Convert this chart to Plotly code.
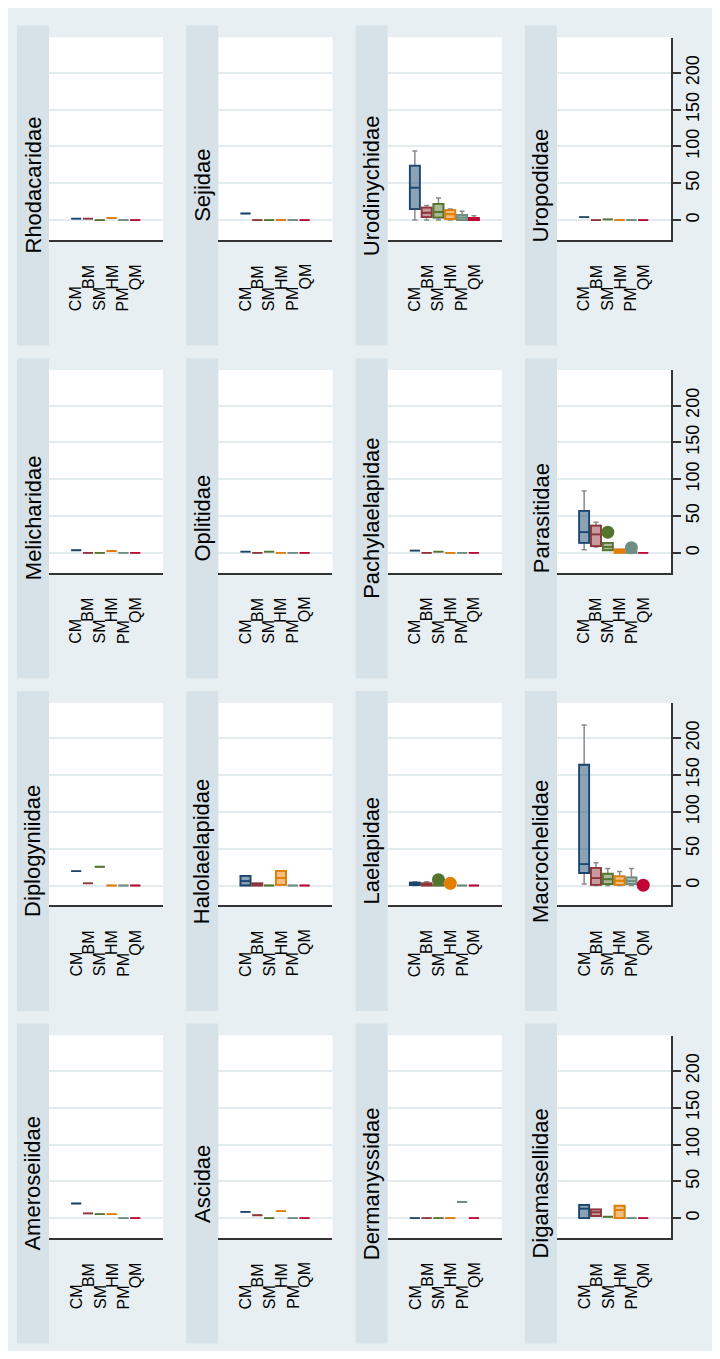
import plotly.graph_objects as go

FAMILIES = ["Ameroseiidae", "Ascidae", "Dermanyssidae", "Digamasellidae",
            "Diplogyniidae", "Halolaelapidae", "Laelapidae", "Macrochelidae",
            "Melicharidae", "Oplitidae", "Pachylaelapidae", "Parasitidae",
            "Rhodacaridae", "Sejidae", "Urodinychidae", "Uropodidae"]
GROUPS = ["CM", "BM", "SM", "HM", "PM", "QM"]
VALUE_TICKS = [0, 50, 100, 150, 200]

# per family: values for CM, BM, SM, HM, PM, QM
LOW = [
    [20, 6.5, 5.5, 5.5, 0, 0],
    [8.5, 4, 0, 9.5, 0, 0],
    [0, 0, 0, 0, 22, 0],
    [0, 3, 2, 0, 0, 0],
    [19.5, 3, 25.5, 0, 0, 0],
    [0, 0, 0, 1, 0, 0],
    [0, 0, 0, 0, 0, 0],
    [2, 0, 0, 0, 0, 0],
    [3.5, 0, 0, 2.5, 0, 0],
    [1.5, 0, 1.5, 0, 0, 0],
    [3, 0, 1.5, 0, 0, 0],
    [4, 8, 3.5, 0, 0, 0],
    [2, 2, 0, 3, 0, 0],
    [9, 0, 0, 0, 0, 0],
    [0, 0, 0, 0, 0, 0],
    [4, 0, 1, 0, 0, 0],
]
Q1 = [
    [20, 6.5, 5.5, 5.5, 0, 0],
    [8.5, 4, 0, 9.5, 0, 0],
    [0, 0, 0, 0, 22, 0],
    [0, 3, 2, 0, 0, 0],
    [19.5, 3, 25.5, 0, 0, 0],
    [0, 0, 0, 1, 0, 0],
    [0.5, 0, 0, 0, 0, 0],
    [17, 1, 2, 1, 2, 0],
    [3.5, 0, 0, 2.5, 0, 0],
    [1.5, 0, 1.5, 0, 0, 0],
    [3, 0, 1.5, 0, 0, 0],
    [13.5, 9, 3.5, 0, 0, 0],
    [2, 2, 0, 3, 0, 0],
    [9, 0, 0, 0, 0, 0],
    [15, 4, 3.5, 1.5, 0, 0],
    [4, 0, 1, 0, 0, 0],
]
MEDIAN = [
    [20, 6.5, 5.5, 5.5, 0, 0],
    [8.5, 4, 0, 9.5, 0, 0],
    [0, 0, 0, 0, 22, 0],
    [13, 8, 2, 11, 0, 0],
    [19.5, 3, 25.5, 0, 0, 0],
    [6, 1.5, 0, 10, 0, 0],
    [2, 1.5, 0.5, 0, 0, 0],
    [29, 10, 8.5, 6.5, 6, 0],
    [3.5, 0, 0, 2.5, 0, 0],
    [1.5, 0, 1.5, 0, 0, 0],
    [3, 0, 1.5, 0, 0, 0],
    [28, 25, 8, 2, 0.5, 0],
    [2, 2, 0, 3, 0, 0],
    [9, 0, 0, 0, 0, 0],
    [44, 10, 11, 8, 3.5, 1.5],
    [4, 0, 1, 0, 0, 0],
]
Q3 = [
    [20, 6.5, 5.5, 5.5, 0, 0],
    [8.5, 4, 0, 9.5, 0, 0],
    [0, 0, 0, 0, 22, 0],
    [18, 12, 2, 17, 0, 0],
    [19.5, 3, 25.5, 0, 0, 0],
    [13, 3, 0, 20, 0, 0],
    [4, 3, 1, 0, 0, 0],
    [164, 24, 16, 12.5, 11, 0],
    [3.5, 0, 0, 2.5, 0, 0],
    [1.5, 0, 1.5, 0, 0, 0],
    [3, 0, 1.5, 0, 0, 0],
    [57, 37, 13.5, 4.5, 1, 0],
    [2, 2, 0, 3, 0, 0],
    [9, 0, 0, 0, 0, 0],
    [74, 17, 22, 13.5, 7, 3],
    [4, 0, 1, 0, 0, 0],
]
HIGH = [
    [20, 6.5, 5.5, 5.5, 0, 0],
    [8.5, 4, 0, 9.5, 0, 0],
    [0, 0, 0, 0, 22, 0],
    [18, 12, 2, 17, 0, 0],
    [19.5, 3, 25.5, 0, 0, 0],
    [13, 3, 0, 20, 0, 0],
    [5, 5, 1, 0, 0, 0],
    [218, 31, 23, 19, 23, 0],
    [3.5, 0, 0, 2.5, 0, 0],
    [1.5, 0, 1.5, 0, 0, 0],
    [3, 0, 1.5, 0, 0, 0],
    [84, 41.5, 13.5, 4.5, 1, 0],
    [2, 2, 0, 3, 0, 0],
    [9, 0, 0, 0, 0, 0],
    [94, 20, 30, 15, 12, 6],
    [4, 0, 1, 0, 0, 0],
]
OUTLIER_FAMILY = ["Laelapidae", "Laelapidae", "Macrochelidae", "Parasitidae", "Parasitidae"]
OUTLIER_GROUP = ["SM", "HM", "QM", "SM", "PM"]
OUTLIER_VALUE = [8, 3, 0.5, 28, 7]

LINE_COLORS = ["#1a476f", "#90353b", "#55752f", "#e37e00", "#6e8e84", "#c10534"]
FILL_COLORS = ["rgba(26,71,111,0.5)", "rgba(144,53,59,0.5)", "rgba(85,117,47,0.5)",
               "rgba(227,126,0,0.5)", "rgba(110,142,132,0.55)", "rgba(193,5,52,0.5)"]

# page body keeps an 8px margin, so the figure is drawn 16px smaller and offset
OFF = 8
W, H = 720 - 2 * OFF, 1359 - 2 * OFF
FONT = "Liberation Sans, Arial, Helvetica, sans-serif"
INNER = "#e8eff2"
STRIP = "#d6e2e8"
GRID = "#e3ebee"
AXIS = "#333333"


def px(v):
    return (v - OFF) / W


def py(v):
    return 1 - (v - OFF) / H


fig = go.Figure()
shapes = []
annotations = []
layout = {}

for i, fam in enumerate(FAMILIES):
    n = i + 1
    c = i % 4
    r = 3 - i // 4
    x0 = 49 + 169.33 * c
    x1 = x0 + 114
    top = 37.5 + 332.7 * r
    bottom = top + 202.5
    stop = 25.5 + 332.7 * r
    xa = "x" if n == 1 else f"x{n}"
    ya = "y" if n == 1 else f"y{n}"
    right = (c == 3)

    layout["xaxis" if n == 1 else f"xaxis{n}"] = dict(
        domain=[px(x0), px(x1)], anchor=ya, range=[-2.3, 7.35],
        showgrid=False, zeroline=False, showticklabels=False, ticks="",
        showline=True, linecolor=AXIS, linewidth=1.6, fixedrange=True)
    layout["yaxis" if n == 1 else f"yaxis{n}"] = dict(
        domain=[py(bottom), py(top)], anchor=xa, range=[-27, 248],
        tickvals=VALUE_TICKS, ticktext=[str(t) for t in VALUE_TICKS],
        showgrid=True, gridcolor=GRID, gridwidth=1.5, zeroline=False,
        side="right" if right else "left",
        showticklabels=right, ticks="outside" if right else "",
        ticklen=8, tickwidth=1.5, tickcolor=AXIS, tickangle=-90,
        ticklabelstandoff=-3,
        tickfont=dict(size=18, color="black", family=FONT),
        showline=right, linecolor=AXIS, linewidth=1.6, fixedrange=True)

    # white plot region + title strip
    shapes.append(dict(type="rect", xref="paper", yref="paper", x0=px(x0), x1=px(x1),
                       y0=py(bottom), y1=py(top), fillcolor="white", line_width=0,
                       layer="below"))
    shapes.append(dict(type="rect", xref="paper", yref="paper", x0=px(x0 - 32), x1=px(x0),
                       y0=py(stop + 320), y1=py(stop), fillcolor=STRIP, line_width=0,
                       layer="below"))
    annotations.append(dict(text=fam, xref="paper", yref="paper", x=px(x0 - 16),
                            y=py(stop + 160), textangle=-90, showarrow=False,
                            xanchor="center", yanchor="middle",
                            font=dict(size=22, color="black", family=FONT)))

    # whiskers (gray)
    fig.add_trace(go.Box(
        x=list(range(len(GROUPS))), q1=Q1[i], median=MEDIAN[i], q3=Q3[i],
        lowerfence=LOW[i], upperfence=HIGH[i], width=0.85, whiskerwidth=0.5,
        line=dict(color="#8a8a8a", width=1.5), fillcolor="rgba(0,0,0,0)",
        boxpoints=False, xaxis=xa, yaxis=ya, showlegend=False, hoverinfo="skip"))
    # colored boxes
    for k, g in enumerate(GROUPS):
        fig.add_trace(go.Box(
            x=[k], q1=[Q1[i][k]], median=[MEDIAN[i][k]], q3=[Q3[i][k]],
            lowerfence=[Q1[i][k]], upperfence=[Q3[i][k]], width=0.85, whiskerwidth=0,
            line=dict(color=LINE_COLORS[k], width=1.8), fillcolor=FILL_COLORS[k],
            boxpoints=False, xaxis=xa, yaxis=ya, showlegend=False, name=g,
            hoverinfo="skip"))
        annotations.append(dict(text=g, xref=xa, yref="paper", x=k,
                                y=py(bottom + (59 if k % 2 == 0 else 37)),
                                textangle=-90, showarrow=False,
                                xanchor="center", yanchor="middle",
                                font=dict(size=16, color="black", family=FONT)))
    # outside values
    ox, oy, oc = [], [], []
    for f, g, v in zip(OUTLIER_FAMILY, OUTLIER_GROUP, OUTLIER_VALUE):
        if f == fam:
            ox.append(GROUPS.index(g))
            oy.append(v)
            oc.append(LINE_COLORS[GROUPS.index(g)])
    if ox:
        fig.add_trace(go.Scatter(x=ox, y=oy, mode="markers", xaxis=xa, yaxis=ya,
                                 marker=dict(size=13, color=oc, line=dict(width=0)),
                                 showlegend=False, hoverinfo="skip"))

fig.update_layout(
    width=W, height=H, margin=dict(l=0, r=0, t=0, b=0),
    paper_bgcolor=INNER, plot_bgcolor="white", showlegend=False,
    shapes=shapes, annotations=annotations, hovermode=False,
    font=dict(family=FONT, color="black"), **layout)

fig.write_html("out.html")
